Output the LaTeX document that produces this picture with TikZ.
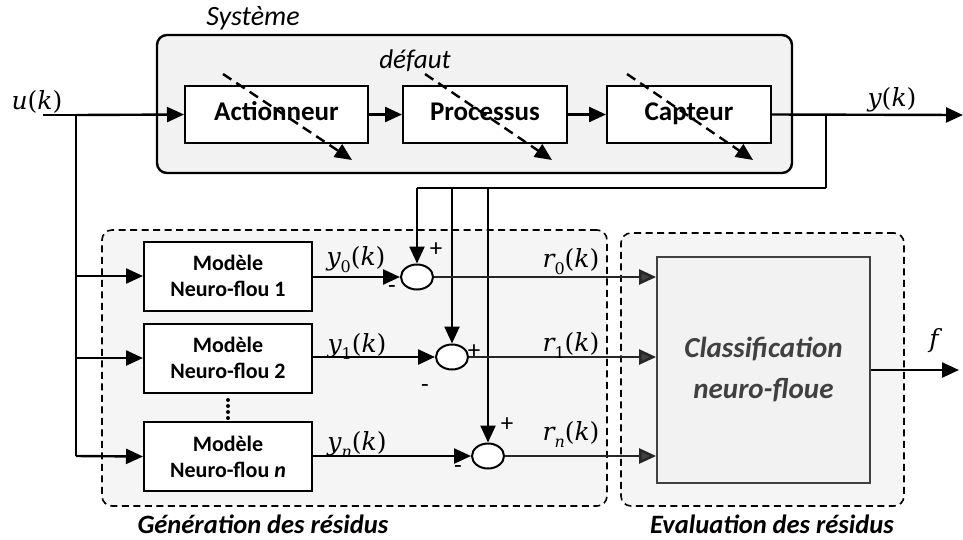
\documentclass[tikz,border=0pt]{standalone}
\usepackage{fontspec}
\setmainfont{Carlito}
\newfontfamily\mfam{DejaVu Serif}
\usetikzlibrary{arrows.meta,shapes.geometric}
\definecolor{sysfill}{HTML}{F2F2F2}
\definecolor{grpfill}{HTML}{F5F5F5}
\definecolor{dk}{HTML}{404040}
% signal label: #1 letter, #2 subscript (may be empty)
\newcommand\sgnl[2]{{\mfam\itshape #1}\raisebox{-0.28em}{\fontsize{16}{16}\selectfont\mfam #2}{\mfam(}{\mfam\itshape k}{\mfam)}}
\begin{document}
\begin{tikzpicture}[x=1pt,y=-1pt,
  tip/.style={-{Triangle[length=17pt,width=15pt]}},
  sig/.style={line width=2.4pt,tip},
  blk/.style={draw,line width=2pt,fill=white,minimum width=164pt,minimum height=57pt,inner sep=0pt,text height=17pt,text depth=5pt,font=\bfseries\fontsize{27}{30}\selectfont},
  mdl/.style={draw,line width=2pt,fill=white,minimum width=168pt,minimum height=69pt,inner sep=0pt,align=center,font=\bfseries\fontsize{22}{26}\selectfont},
  sumj/.style={draw,ellipse,line width=2pt,fill=white,minimum width=32pt,minimum height=25pt,inner sep=0pt},
  grp/.style={draw,dash pattern=on 7pt off 4.5pt,line width=1.6pt,fill=grpfill,rounded corners=10pt,inner sep=0pt},
  fault/.style={line width=2.4pt,dash pattern=on 10pt off 6pt,tip},
  lbl/.style={font=\fontsize{25}{28}\selectfont,inner sep=0pt},
  sgn/.style={font=\fontsize{25}{26}\selectfont,inner sep=0pt},
  grpcap/.style={font=\bfseries\itshape\fontsize{26.5}{30}\selectfont,inner sep=0pt},
]
\useasboundingbox (0,0) rectangle (963,539);
% containers
\node[draw,line width=2.4pt,fill=sysfill,rounded corners=10pt,minimum width=635pt,minimum height=138pt,inner sep=0pt] (sys) at (474.5,104) {};
\node[grp,minimum width=505pt,minimum height=276pt] (gen) at (354.5,368) {};
\node[grp,minimum width=283pt,minimum height=273pt] (eval) at (762.5,369.5) {};
\node[font=\itshape\fontsize{28}{30}\selectfont,inner sep=0pt] (systxt) at (253,18) {Système};
\node[grpcap] (gentxt) at (263,524) {Génération des résidus};
\node[grpcap] (evaltxt) at (772,524) {Evaluation des résidus};

% coordinates
\coordinate (uin) at (43,115);
\coordinate (ub) at (76,115);
\coordinate (yout) at (963,115);
\coordinate (yb) at (826,115);
\coordinate (yc) at (826,188);
\coordinate (fb0) at (417,188);
\coordinate (fb1) at (452,188);
\coordinate (fbn) at (488,188);
\coordinate (b1) at (76,276);
\coordinate (b2) at (76,358);
\coordinate (bn) at (76,456);
\coordinate (fout) at (959,370);

% lines (behind blocks)
\draw[line width=2.4pt] (uin) -- (ub);
\draw[line width=2.4pt] (ub) -- (bn);
\draw[line width=2pt] (yb) -- (yc);
\draw[line width=1.6pt] (yc) -- (fb0);

% blocks
\node[blk,minimum width=183pt] (act) at (276.5,114.5) {Actionneur};
\node[blk] (proc) at (485,114.5) {Processus};
\node[blk] (capt) at (689,114.5) {Capteur};

\node[mdl] (m1) at (228,276) {Modèle\\Neuro-flou 1};
\node[mdl] (m2) at (228,358) {Modèle\\Neuro-flou 2};
\node[mdl] (mn) at (228,456.5) {Modèle\\Neuro-flou \textit{n}};

\node[draw=dk,line width=1.8pt,fill=sysfill,minimum width=213pt,minimum height=226pt,inner sep=0pt,align=center,text=dk,font=\bfseries\itshape\fontsize{29}{41}\selectfont] (cls) at (763.5,370) {Classification\\neuro-floue};

\node[sumj] (s0) at (417,277) {};
\node[sumj] (s1) at (452,357) {};
\node[sumj] (sn) at (488,456) {};

% system chain
\draw[sig] (ub) -- (act.west);
\draw[sig] (act.east) -- (proc.west);
\draw[sig] (proc.east) -- (capt.west);
\draw[sig] (capt.east) -- (yout);

% feedback
\draw[sig] (fb0) -- (s0.north);
\draw[sig] (fb1) -- (s1.north);
\draw[sig] (fbn) -- (sn.north);

% model inputs
\draw[sig] (b1) -- (m1.west);
\draw[sig] (b2) -- (m2.west);
\draw[sig] (bn) -- (mn.west);

% model outputs
\draw[sig] (m1.east |- s0) -- (s0.west);
\draw[sig] (m2.east |- s1) -- (s1.west);
\draw[sig] (mn.east |- sn) -- (sn.west);

% residuals
\draw[sig,draw=black!85,-{Triangle[length=17pt,width=15pt,fill=dk]}] (s0.east) -- (cls.west |- s0);
\draw[sig,draw=black!85,-{Triangle[length=17pt,width=15pt,fill=dk]}] (s1.east) -- (cls.west |- s1);
\draw[sig,draw=black!85,-{Triangle[length=17pt,width=15pt,fill=dk]}] (sn.east) -- (cls.west |- sn);
\draw[sig] (cls.east) -- (fout);

% dots
\foreach \yy in {400,406,412,418} \fill (228,\yy) circle (2pt);

% faults
\coordinate (f1a) at (223,74); \coordinate (f1b) at (352,160);
\coordinate (f2a) at (425,74); \coordinate (f2b) at (552,160);
\coordinate (f3a) at (627,74); \coordinate (f3b) at (753,160);
\draw[fault] (f1a) -- (f1b);
\draw[fault] (f2a) -- (f2b);
\draw[fault] (f3a) -- (f3b);
\node[font=\itshape\fontsize{27}{30}\selectfont,inner sep=0pt] (def) at (415,61) {défaut};

% signal labels
\node[lbl] (ulbl) at (37,103) {\sgnl{u}{}};
\node[lbl] (ylbl) at (892,100) {\sgnl{y}{}};
\node[lbl] (y0l) at (356,260) {\sgnl{y}{0}};
\node[lbl] (y1l) at (357,346) {\sgnl{y}{1}};
\node[lbl] (ynl) at (357,444) {\sgnl{y}{\itshape n}};
\node[lbl] (r0l) at (571,262) {\sgnl{r}{0}};
\node[lbl] (r1l) at (571,345) {\sgnl{r}{1}};
\node[lbl] (rnl) at (571,434) {\sgnl{r}{\itshape n}};
\node[lbl] (flbl) at (934,341) {{\mfam\itshape f}};

% signs
\node[sgn] (p0) at (436,250) {+};
\node[sgn] (n0) at (392,290) {-};
\node[sgn] (p1) at (474,352) {+};
\node[sgn] (n1) at (425,389) {-};
\node[sgn] (pn) at (507,425) {+};
\node[sgn] (nn) at (458,470) {-};
\end{tikzpicture}
\end{document}
